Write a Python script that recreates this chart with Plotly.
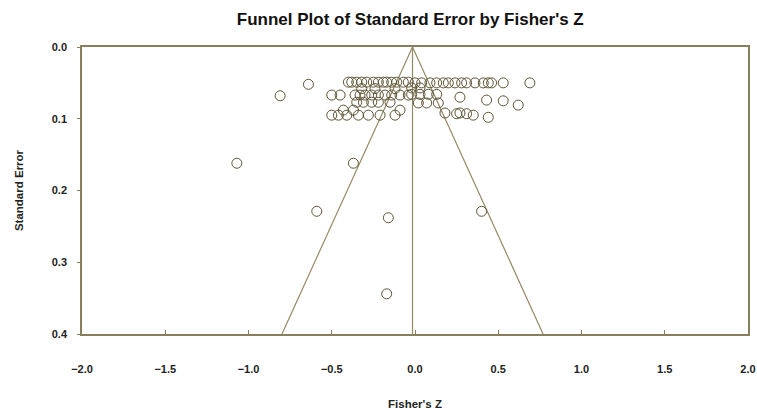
import plotly.graph_objects as go

# ---- data ----
fisher_z = [
    # top row, left cluster
    -0.40, -0.38, -0.35, -0.32, -0.29, -0.25, -0.22, -0.19, -0.17, -0.14, -0.11, -0.07, -0.04,
    # second rows left
    -0.50, -0.45, -0.36, -0.33, -0.30, -0.26, -0.22, -0.18, -0.14, -0.09, -0.04,
    -0.35, -0.31, -0.26, -0.22, -0.15,
    -0.43, -0.37, -0.09,
    -0.50, -0.46, -0.41, -0.34, -0.28, -0.21, -0.12,
    -0.32, -0.24, -0.12,
    -0.81, -0.64,
    # right cluster
    0.00, 0.04, 0.09, 0.13, 0.17, 0.20, 0.24, 0.28, 0.31, 0.36, 0.41, 0.44, 0.46, 0.53, 0.69,
    -0.02, 0.03,
    -0.02, 0.03, 0.08, 0.13,
    0.27, 0.43, 0.53, 0.62,
    0.02, 0.07, 0.14,
    0.18, 0.25, 0.27, 0.31, 0.35, 0.44,
    # outliers
    -1.07, -0.37, -0.59, -0.16, 0.40, -0.17,
]
std_err = [
    0.049, 0.049, 0.049, 0.049, 0.049, 0.049, 0.049, 0.049, 0.049, 0.049, 0.049, 0.049, 0.049,
    0.067, 0.067, 0.067, 0.067, 0.067, 0.067, 0.067, 0.067, 0.067, 0.067, 0.067,
    0.077, 0.077, 0.077, 0.077, 0.077,
    0.088, 0.088, 0.088,
    0.095, 0.095, 0.095, 0.095, 0.095, 0.095, 0.095,
    0.058, 0.058, 0.058,
    0.068, 0.052,
    0.050, 0.050, 0.050, 0.050, 0.050, 0.050, 0.050, 0.050, 0.050, 0.050, 0.050, 0.050, 0.050, 0.050, 0.050,
    0.057, 0.057,
    0.066, 0.066, 0.066, 0.066,
    0.070, 0.074, 0.075, 0.081,
    0.078, 0.078, 0.078,
    0.092, 0.093, 0.092, 0.093, 0.095, 0.098,
    0.162, 0.162, 0.229, 0.238, 0.229, 0.344,
]
mean_z = -0.015          # summary effect (funnel apex)
funnel_se = [0.0, 0.4]   # funnel spans SE 0 .. 0.4
z_crit = 1.96
summary_open_se = 0.414  # observed summary diamond (below axis)
summary_fill_se = 0.433  # adjusted summary diamond
x_ticks = [-2.0, -1.5, -1.0, -0.5, 0.0, 0.5, 1.0, 1.5, 2.0]
y_ticks = [0.0, 0.1, 0.2, 0.3, 0.4]

line_col = "#958a66"
frame_col = "#8a7f5c"
pt_col = "#5e5535"
font_fam = "Liberation Sans, Arial, sans-serif"

fig = go.Figure()

# funnel lines
left_x = [mean_z, mean_z - z_crit * funnel_se[1]]
right_x = [mean_z, mean_z + z_crit * funnel_se[1]]
fig.add_trace(go.Scatter(x=left_x, y=funnel_se, mode="lines",
                         line=dict(color=line_col, width=1.2), hoverinfo="skip", showlegend=False))
fig.add_trace(go.Scatter(x=right_x, y=funnel_se, mode="lines",
                         line=dict(color=line_col, width=1.2), hoverinfo="skip", showlegend=False))
fig.add_trace(go.Scatter(x=[mean_z, mean_z], y=funnel_se, mode="lines",
                         line=dict(color=line_col, width=1.2), hoverinfo="skip", showlegend=False))

# studies
fig.add_trace(go.Scatter(x=fisher_z, y=std_err, mode="markers",
                         marker=dict(symbol="circle-open", size=10, color=pt_col,
                                     line=dict(width=1, color=pt_col)),
                         showlegend=False))

# summary diamonds below the axis
fig.add_trace(go.Scatter(x=[mean_z], y=[summary_open_se], mode="markers", cliponaxis=False,
                         marker=dict(symbol="diamond-tall-open", size=7, color="#7a7050",
                                     line=dict(width=1, color="#7a7050")),
                         showlegend=False))
fig.add_trace(go.Scatter(x=[mean_z], y=[summary_fill_se], mode="markers", cliponaxis=False,
                         marker=dict(symbol="diamond-tall", size=7, color="#222222"),
                         showlegend=False))

fig.update_layout(
    width=757, height=410,
    margin=dict(l=82, r=9, t=47, b=76, autoexpand=False),
    paper_bgcolor="white", plot_bgcolor="white",
    font=dict(family=font_fam, color="#222222"),
    title=dict(text="<b>Funnel Plot of Standard Error by Fisher's Z</b>",
               x=0.542, xanchor="center", y=0.954, yanchor="middle",
               font=dict(size=17, color="#111111")),
)
fig.update_xaxes(
    range=[-2.0, 2.0], tickvals=x_ticks, tickformat=".1f",
    showgrid=False, zeroline=False, automargin=False,
    showline=True, mirror=True, linecolor=frame_col, linewidth=1.5,
    ticks="inside", ticklen=4, tickcolor=frame_col,
    tickfont=dict(size=11, weight="bold", color="#222222"),
    ticklabelstandoff=24, ticklabeloverflow="allow",
    title=dict(text="<b>Fisher's Z</b>", font=dict(size=11.5), standoff=28),
)
fig.update_yaxes(
    range=[0.4, 0.0], tickvals=y_ticks, tickformat=".1f",
    showgrid=False, zeroline=False, automargin=False,
    showline=True, mirror=True, linecolor=frame_col, linewidth=1.5,
    ticks="outside", ticklen=3, tickcolor=frame_col,
    tickfont=dict(size=11, weight="bold", color="#222222"),
    ticklabelstandoff=8,
    title=dict(text="<b>Standard Error</b>", font=dict(size=11.5), standoff=26),
)

# remove the browser's default 8px page margin so the 757x410 figure fills the window
fig.write_html("out.html",
               config={"displayModeBar": False},
               post_script="document.body.style.margin='0';document.body.style.overflow='hidden';")
